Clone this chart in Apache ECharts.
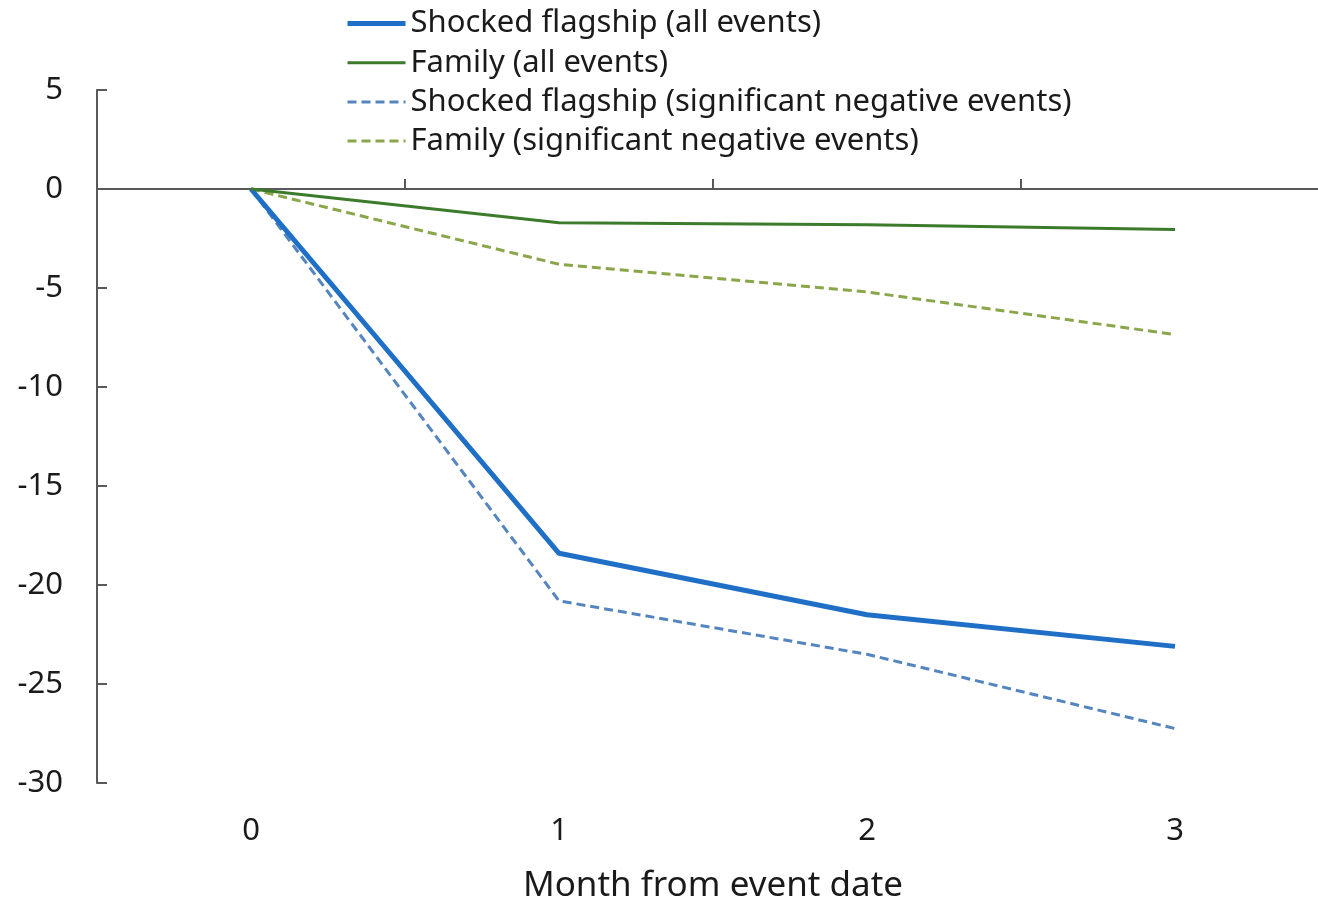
<!DOCTYPE html>
<html>
<head>
<meta charset="utf-8">
<script src="https://cdn.jsdelivr.net/npm/echarts@6/dist/echarts.min.js"></script>
<style>
html,body{margin:0;padding:0;background:#fff;}
#chart{width:1318px;height:899px;}
</style>
</head>
<body>
<div id="chart"></div>
<script>
var categories = ['0', '1', '2', '3'];
var flagshipAll = [0, -18.4, -21.5, -23.1];
var familyAll = [0, -1.7, -1.8, -2.05];
var flagshipSig = [0, -20.8, -23.5, -27.25];
var familySig = [0, -3.8, -5.2, -7.35];
var yTicks = { min: -30, max: 5, interval: 5 };
var seriesNames = [
  'Shocked flagship (all events)',
  'Family (all events)',
  'Shocked flagship (significant negative events)',
  'Family (significant negative events)'
];
var lineWidths = [5, 3, 3, 3];

var FONT = '"Noto Sans", "Open Sans", sans-serif';
var chart = echarts.init(document.getElementById('chart'));
chart.setOption({
  animation: false,
  backgroundColor: '#ffffff',
  textStyle: { fontFamily: FONT, color: '#1a1a1a' },
  legend: {
    orient: 'vertical',
    left: 340,
    top: 3,
    itemWidth: 58,
    itemHeight: 14,
    itemGap: 8.2,
    itemStyle: { opacity: 0 },
    textStyle: { fontFamily: FONT, fontSize: 31, color: '#1a1a1a', lineHeight: 30 },
    data: seriesNames.map(function (n, i) {
      return { name: n, lineStyle: { width: lineWidths[i] } };
    })
  },
  grid: { left: 97, top: 90, right: -11, bottom: 116, containLabel: false, outerBoundsMode: 'none' },
  xAxis: [
    {
      type: 'category',
      data: categories,
      position: 'bottom',
      boundaryGap: true,
      axisLine: { show: false, onZero: false },
      axisTick: { show: false },
      axisLabel: { fontFamily: FONT, fontSize: 31, color: '#1a1a1a', margin: 33 },
      name: 'Month from event date',
      nameLocation: 'middle',
      nameGap: 86,
      nameTextStyle: { fontFamily: FONT, fontSize: 35, color: '#1a1a1a' }
    },
    {
      type: 'category',
      data: categories,
      position: 'bottom',
      boundaryGap: true,
      axisLine: { show: true, onZero: true, lineStyle: { color: '#595959', width: 2 } },
      axisTick: { show: true, inside: true, length: 10, lineStyle: { color: '#595959', width: 2 } },
      axisLabel: { show: false }
    }
  ],
  yAxis: {
    type: 'value',
    min: yTicks.min,
    max: yTicks.max,
    interval: yTicks.interval,
    splitLine: { show: false },
    axisLine: { show: true, onZero: false, lineStyle: { color: '#595959', width: 2 } },
    axisTick: { show: true, inside: true, length: 10, lineStyle: { color: '#595959', width: 2 } },
    axisLabel: { fontFamily: FONT, fontSize: 31, color: '#1a1a1a', margin: 34 }
  },
  series: [
    {
      name: seriesNames[0], type: 'line', xAxisIndex: 0, data: flagshipAll,
      symbol: 'none', z: 4,
      lineStyle: { color: '#1f6fc6', width: lineWidths[0] }, itemStyle: { color: '#1f6fc6' }
    },
    {
      name: seriesNames[1], type: 'line', xAxisIndex: 0, data: familyAll,
      symbol: 'none', z: 4,
      lineStyle: { color: '#3d7b2c', width: lineWidths[1] }, itemStyle: { color: '#3d7b2c' }
    },
    {
      name: seriesNames[2], type: 'line', xAxisIndex: 0, data: flagshipSig,
      symbol: 'none', z: 3,
      lineStyle: { color: '#5585be', width: lineWidths[2], type: [9, 5] }, itemStyle: { color: '#5585be' }
    },
    {
      name: seriesNames[3], type: 'line', xAxisIndex: 0, data: familySig,
      symbol: 'none', z: 3,
      lineStyle: { color: '#8aa64a', width: lineWidths[3], type: [9, 5] }, itemStyle: { color: '#8aa64a' }
    }
  ]
});
</script>
</body>
</html>
